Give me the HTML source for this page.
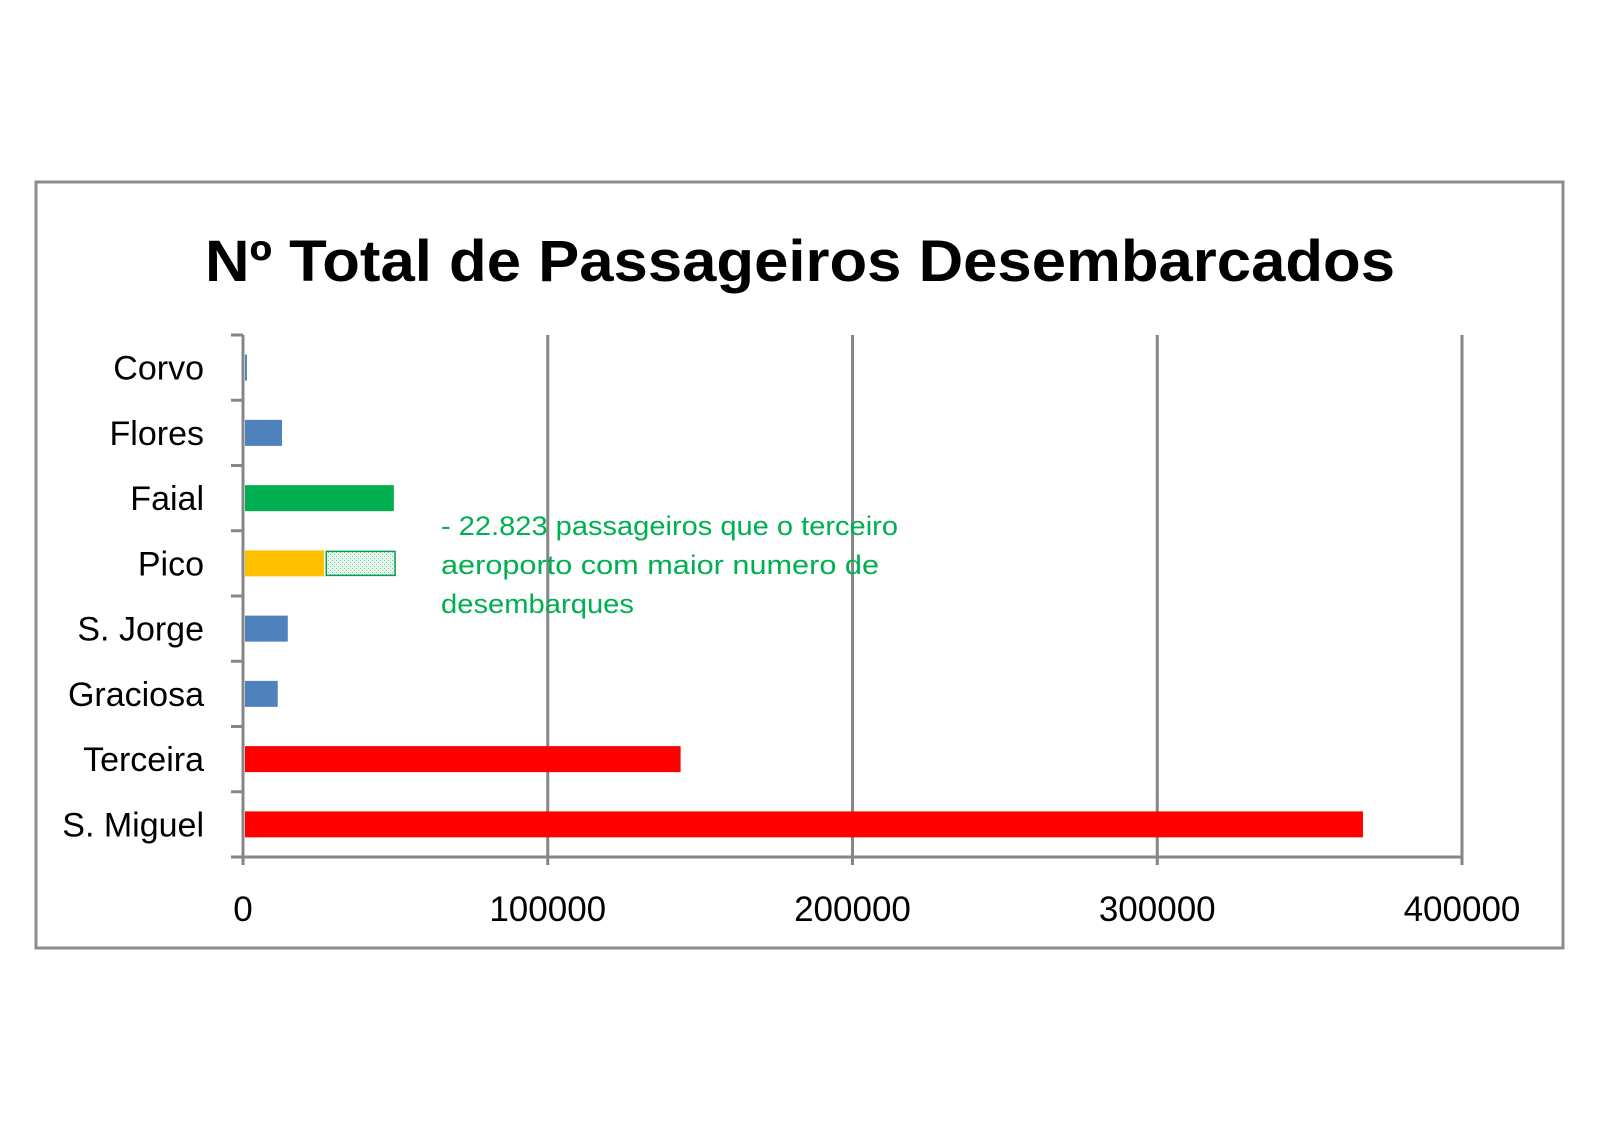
<!DOCTYPE html>
<html><head><meta charset="utf-8"><style>
body{margin:0;background:#fff;width:1600px;height:1130px;overflow:hidden;font-family:"Liberation Sans",sans-serif}
</style></head><body>
<svg width="1600" height="1130">
<rect x="36" y="182" width="1527" height="766" fill="#fff" stroke="#8c8c8c" stroke-width="3"/>
<text x="800" y="281" text-anchor="middle" font-size="58" font-weight="bold" font-family="Liberation Sans, sans-serif" textLength="1190" lengthAdjust="spacingAndGlyphs">Nº Total de Passageiros Desembarcados</text>
<g id="grid"></g><g id="bars"></g><g id="labels"></g>
<g fill="#00b050" font-size="27" font-family="Liberation Sans, sans-serif">
<text x="441" y="535" textLength="457" lengthAdjust="spacingAndGlyphs">- 22.823 passageiros que o terceiro</text>
<text x="441" y="574" textLength="438" lengthAdjust="spacingAndGlyphs">aeroporto  com maior numero de</text>
<text x="441" y="613" textLength="193" lengthAdjust="spacingAndGlyphs">desembarques</text>
</g>
<defs><pattern id="dots" width="4" height="4" patternUnits="userSpaceOnUse"><rect width="4" height="4" fill="#e6f5ec"/><rect width="1" height="1" fill="#7cc99a"/><rect x="2" y="2" width="1" height="1" fill="#7cc99a"/></pattern></defs>
</svg>
<script>
const categories=["Corvo","Flores","Faial","Pico","S. Jorge","Graciosa","Terceira","S. Miguel"];
const values=[1300,12800,49500,26600,14700,11400,143600,367500];
const colors=["#4f81bd","#4f81bd","#00b050","#ffc000","#4f81bd","#4f81bd","#ff0000","#ff0000"];
const extraCategory="Pico";
const extraStart=27000;
const extraEnd=49900;
const ticks=[0,100000,200000,300000,400000];
const X0=243,X1=1462,Y0=335,Y1=857;
const xs=v=>X0+(v/400000)*(X1-X0);
const band=(Y1-Y0)/categories.length;
const ys=i=>Y0+band*i+band/2;
const NS="http://www.w3.org/2000/svg";
function mk(t,a,p){const e=document.createElementNS(NS,t);for(const k in a)e.setAttribute(k,a[k]);document.getElementById(p).appendChild(e);return e;}
ticks.forEach((t,i)=>{
 if(i>0){const g=mk("line",{x1:xs(t),x2:xs(t),y1:Y0,y2:Y1+8,stroke:"#868686","stroke-width":3},"grid");
 
 }
 const l=mk("text",{x:xs(t),y:921,"text-anchor":"middle","font-size":35,"font-family":"Liberation Sans, sans-serif"},"labels");
 l.textContent=t;
 
 
});
const ax=mk("line",{x1:X0,x2:X1,y1:Y1,y2:Y1,stroke:"#868686","stroke-width":3},"grid");


const ay=mk("line",{x1:X0,x2:X0,y1:Y0,y2:Y1+8,stroke:"#868686","stroke-width":3},"grid");


for(let i=0;i<=categories.length;i++){
 const tk=mk("line",{x1:X0-12,x2:X0,y1:Y0+band*i,y2:Y0+band*i,stroke:"#868686","stroke-width":3},"grid");
 
 
}
categories.forEach((c,i)=>{
 const b=mk("rect",{x:X0+2,y:ys(i)-13,width:xs(values[i])-X0-2,height:26,fill:colors[i]},"bars");
 
 
 const l=mk("text",{x:204,y:ys(i)+12,"text-anchor":"end","font-size":34,"font-family":"Liberation Sans, sans-serif"},"labels");
 l.textContent=c;
 
 
 if(c===extraCategory){
  const e=mk("rect",{x:xs(extraStart)+1,y:ys(i)-12,width:xs(extraEnd)-xs(extraStart)-1,height:24,fill:"url(#dots)",stroke:"#00a050","stroke-width":1.5},"bars");
  
  
 }
});
</script>
</body></html>
